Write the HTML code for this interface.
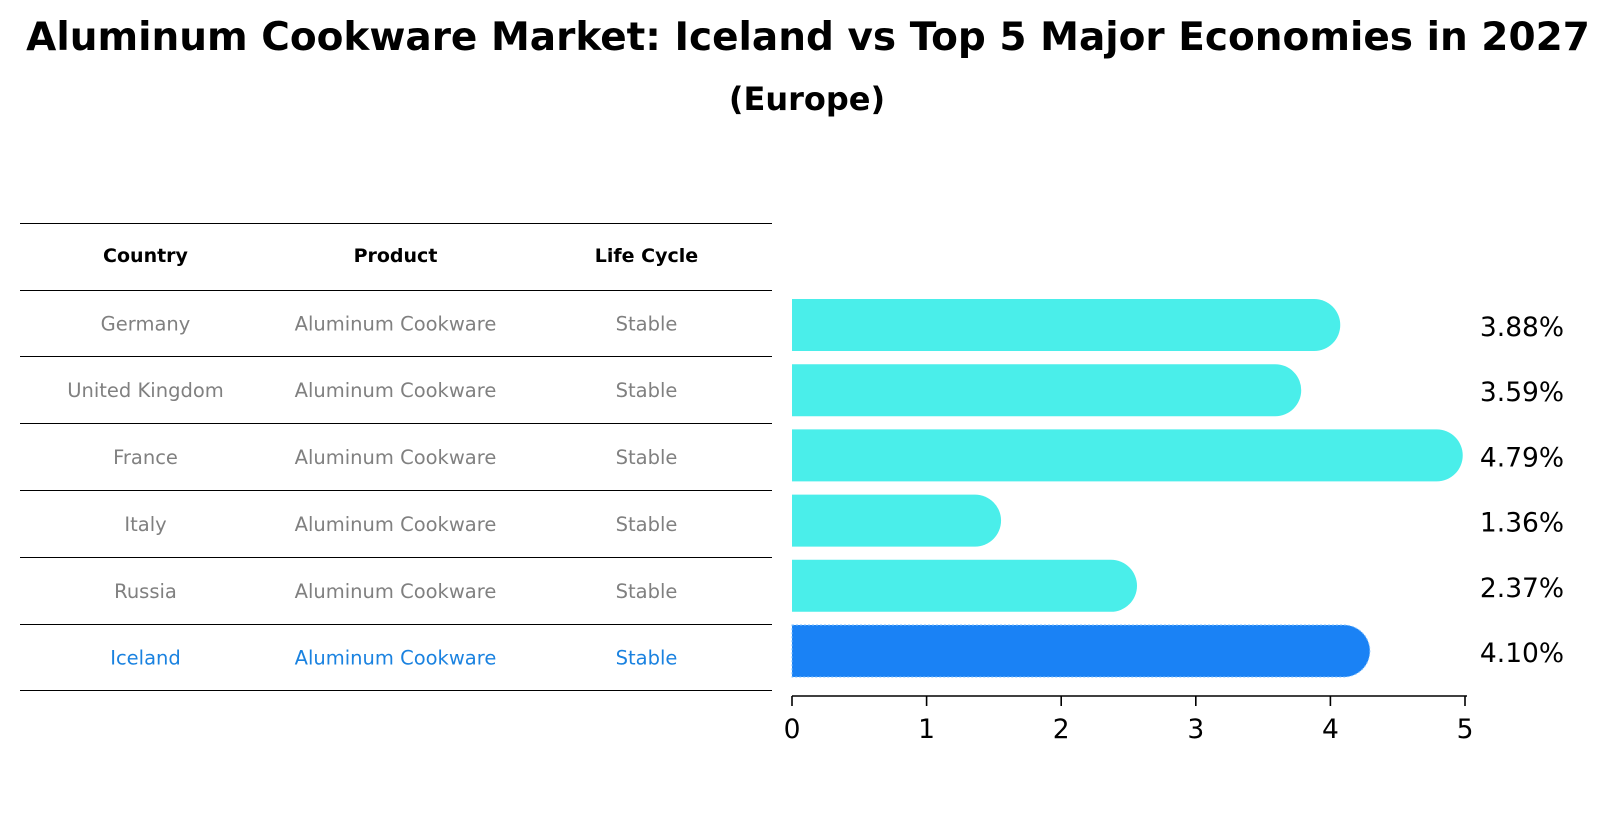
<!DOCTYPE html>
<html><head><meta charset="utf-8"><style>
body{margin:0;width:1606px;height:823px;background:#fff;font-family:"DejaVu Sans","Liberation Sans",sans-serif;overflow:hidden}
</style></head><body>
<svg width="1606" height="823" xmlns="http://www.w3.org/2000/svg" font-family="DejaVu Sans, Liberation Sans, sans-serif">
<text x="808" y="50" text-anchor="middle" font-size="39" font-weight="bold">Aluminum Cookware Market: Iceland vs Top 5 Major Economies in 2027</text>
<text x="807" y="110" text-anchor="middle" font-size="32" font-weight="bold">(Europe)</text>
<g id="table"></g>
<g id="bars"></g>
</svg>
<script>
const countries=["Germany","United Kingdom","France","Italy","Russia","Iceland"];
const values=[3.88,3.59,4.79,1.36,2.37,4.10];
const products=["Aluminum Cookware","Aluminum Cookware","Aluminum Cookware","Aluminum Cookware","Aluminum Cookware","Aluminum Cookware"];
const cycles=["Stable","Stable","Stable","Stable","Stable","Stable"];
const ticks=[0,1,2,3,4,5];
const NS="http://www.w3.org/2000/svg";
function mk(t,a,p,txt){const e=document.createElementNS(NS,t);for(const k in a)e.setAttribute(k,a[k]);if(txt!==undefined)e.textContent=txt;p.appendChild(e);return e;}
const tb=document.getElementById('table');
const lineY=[223.5,290.5,356.5,423.5,490.5,557.5,624.5,690.5];
lineY.forEach(y=>{const l=mk('line',{x1:20,x2:772,y1:y,y2:y,stroke:'#000','stroke-width':1},tb);

});
const cx=[145.5,395.5,646.5];
["Country","Product","Life Cycle"].forEach((h,i)=>{const t=mk('text',{x:cx[i],y:262,'text-anchor':'middle','font-size':19,'font-weight':'bold'},tb,h);

});
countries.forEach((c,r)=>{const y=(lineY[r+1]+lineY[r+2])/2+7;const col=r===countries.length-1?'#1a82e0':'#808080';
[c,products[r],cycles[r]].forEach((v,i)=>{const t=mk('text',{x:cx[i],y:y,'text-anchor':'middle','font-size':19.5,fill:col},tb,v);

});});
const g=document.getElementById('bars');
const x0=792,xs=134.6;
const X=v=>x0+v*xs;
const Y=i=>325+i*65.2;
const h=52,r=26;
values.forEach((v,i)=>{const yc=Y(i);const xe=X(v);const col=i===values.length-1?'#1a82f5':'#4aeeea';
const p=mk('path',{d:`M${x0},${yc-h/2} L${xe},${yc-h/2} A${r},${r} 0 0 1 ${xe},${yc+h/2} L${x0},${yc+h/2} Z`,fill:col},g);
if(i===values.length-1){p.setAttribute('stroke','#7fc0ff');p.setAttribute('stroke-width','1');p.setAttribute('stroke-dasharray','2,2');}


const t=mk('text',{x:1522,y:yc+11,'text-anchor':'middle','font-size':26.5},g,v.toFixed(2)+'%');

});
const ax=mk('line',{x1:x0,x2:X(5)+2,y1:696,y2:696,stroke:'#000','stroke-width':1.6},g);


ticks.forEach(t=>{const l=mk('line',{x1:X(t),x2:X(t),y1:696,y2:706,stroke:'#000','stroke-width':1.6},g);


const tx=mk('text',{x:X(t),y:738,'text-anchor':'middle','font-size':26.5},g,String(t));

});
</script>
</body></html>
